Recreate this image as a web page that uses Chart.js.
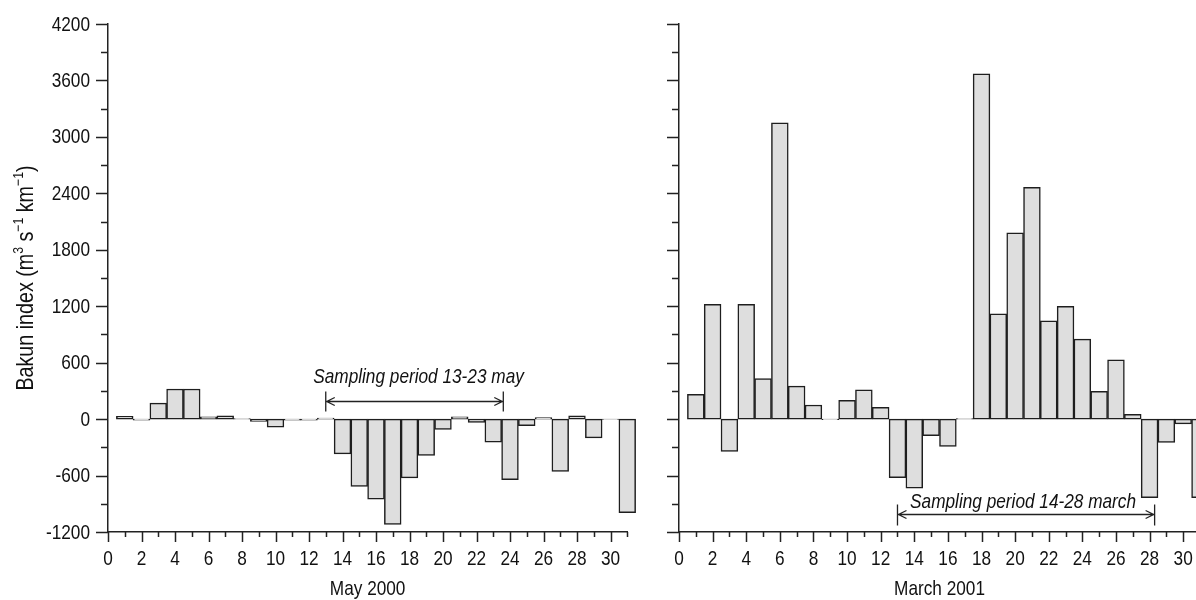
<!DOCTYPE html>
<html>
<head>
<meta charset="utf-8">
<script src="https://cdn.jsdelivr.net/npm/chart.js@4.4.0/dist/chart.umd.min.js"></script>
<style>
  html, body { margin: 0; padding: 0; background: #fff; overflow: hidden; width: 1196px; height: 600px; }
  #wrapMay { position: absolute; left: 0; top: 0; width: 645px; height: 600px; }
  #wrapMarch { position: absolute; left: 640px; top: 0; width: 590px; height: 600px; }
</style>
</head>
<body>
<div id="wrapMay"><canvas id="chartMay"></canvas></div>
<div id="wrapMarch"><canvas id="chartMarch"></canvas></div>
<script>
// days of the month
const days = [1, 2, 3, 4, 5, 6, 7, 8, 9, 10, 11, 12, 13, 14, 15, 16, 17, 18, 19, 20, 21, 22, 23, 24, 25, 26, 27, 28, 29, 30, 31];

// Bakun index, m3 s-1 km-1
const bakunMay2000 = [30, -10, 170, 320, 320, 25, 35, 5, -25, -85, -10, -10, 10, -370, -715, -850, -1120, -625, -385, -110, 25, -35, -245, -645, -70, 15, -555, 35, -200, -3, -995];
const bakunMarch2001 = [263, 1220, -343, 1220, 430, 3150, 350, 150, -5, 200, 310, 125, -623, -733, -177, -290, 5, 3670, 1120, 1980, 2465, 1045, 1200, 850, 295, 630, 50, -835, -248, -50, -835];

// sampling periods (day from, day to) and the level of the arrow
const samplingMay = [13, 23.6];
const samplingMarch = [13, 28.3];
const arrowLevelMay = 190;
const arrowLevelMarch = -1010;

const yMin = -1200, yMax = 4200, yStep = 300, yLabelStep = 600;

// narrow sans: Liberation Sans squeezed horizontally
const fontFam = "'Liberation Sans', Arial, sans-serif";
const squeeze = 0.82;
const ink = '#111';

function fontStr(size, italic) {
  return (italic ? 'italic ' : '') + size + 'px ' + fontFam;
}

function narrow(ctx, text, x, y, size, align, italic) {
  ctx.save();
  ctx.translate(x, y);
  ctx.scale(squeeze, 1);
  ctx.font = fontStr(size, italic);
  ctx.textAlign = align;
  ctx.textBaseline = 'alphabetic';
  ctx.fillStyle = ink;
  ctx.fillText(text, 0, 0);
  ctx.restore();
}

// text with superscripts, parts = [[text, isSup], ...], centred on x
function narrowRich(ctx, parts, x, y, size, rotate) {
  const supSize = Math.round(size * 0.62);
  ctx.save();
  ctx.translate(x, y);
  ctx.rotate(rotate);
  ctx.scale(squeeze, 1);
  ctx.fillStyle = ink;
  ctx.textAlign = 'left';
  ctx.textBaseline = 'alphabetic';
  let w = 0;
  parts.forEach(p => { ctx.font = fontStr(p[1] ? supSize : size); w += ctx.measureText(p[0]).width; });
  let cx = -w / 2;
  parts.forEach(p => {
    ctx.font = fontStr(p[1] ? supSize : size);
    ctx.fillText(p[0], cx, p[1] ? -size * 0.42 : 0);
    cx += ctx.measureText(p[0]).width;
  });
  ctx.restore();
}

// tick marks, tick labels and axis titles
const axisText = {
  id: 'axisText',
  afterDraw(chart, args, opts) {
    const { ctx, scales: { x, y } } = chart;
    ctx.save();
    ctx.strokeStyle = '#222';
    ctx.lineWidth = 1.5;
    ctx.beginPath();
    x.ticks.forEach(t => {
      const px = Math.round(x.getPixelForValue(t.value)) + 0.5;
      const len = t.value % 2 === 0 ? 10 : 5;
      ctx.moveTo(px, x.top);
      ctx.lineTo(px, x.top + len);
    });
    y.ticks.forEach(t => {
      const py = Math.round(y.getPixelForValue(t.value)) + 0.5;
      const len = t.value % yLabelStep === 0 ? 12 : 7;
      ctx.moveTo(y.right - len, py);
      ctx.lineTo(y.right, py);
    });
    ctx.stroke();
    ctx.restore();

    x.ticks.forEach(t => {
      if (t.value % 2 === 0) narrow(ctx, String(t.value), x.getPixelForValue(t.value), x.top + 33, 21, 'center');
    });
    if (opts.yLabels) {
      y.ticks.forEach(t => {
        if (t.value % yLabelStep === 0) narrow(ctx, String(t.value), y.right - 18, y.getPixelForValue(t.value) + 6.5, 21, 'right');
      });
    }
    narrow(ctx, opts.xTitle, (x.left + x.right) / 2, 595, 21, 'center');
    if (opts.yTitle) {
      narrowRich(ctx, opts.yTitle, 33, (y.top + y.bottom) / 2, 24, -Math.PI / 2);
    }
  }
};

// double arrow with the sampling period text
const samplingArrow = {
  id: 'samplingArrow',
  afterDatasetsDraw(chart, args, opts) {
    if (!opts || !opts.text) return;
    const { ctx, scales: { x, y } } = chart;
    const x1 = x.getPixelForValue(opts.range[0]);
    const x2 = x.getPixelForValue(opts.range[1]);
    const py = Math.round(y.getPixelForValue(opts.level)) + 0.5;
    ctx.save();
    ctx.strokeStyle = '#222';
    ctx.lineWidth = 1.3;
    ctx.beginPath();
    ctx.moveTo(x1, py); ctx.lineTo(x2, py);
    ctx.moveTo(x1, py - opts.capUp); ctx.lineTo(x1, py + opts.capDown);
    ctx.moveTo(x2, py - opts.capUp); ctx.lineTo(x2, py + opts.capDown);
    ctx.moveTo(x1 + 9, py - 4); ctx.lineTo(x1 + 1, py); ctx.lineTo(x1 + 9, py + 4);
    ctx.moveTo(x2 - 9, py - 4); ctx.lineTo(x2 - 1, py); ctx.lineTo(x2 - 9, py + 4);
    ctx.stroke();
    ctx.restore();
    narrow(ctx, opts.text, (x1 + x2) / 2 + opts.shift, py - opts.gap, 21, 'center', true);
  }
};

function makeChart(id, values, yWidth, padRight, texts, arrow) {
  return new Chart(document.getElementById(id), {
    type: 'bar',
    data: {
      datasets: [{
        data: days.map((d, i) => ({ x: d, y: values[i] })),
        backgroundColor: '#dedede',
        borderColor: '#1e1e1e',
        borderWidth: 1.5,
        borderSkipped: false,
        barPercentage: 1,
        categoryPercentage: 1,
        clip: false
      }]
    },
    options: {
      responsive: true,
      maintainAspectRatio: false,
      animation: false,
      layout: { padding: { top: 24, right: padRight, bottom: 0, left: 0 } },
      plugins: {
        legend: { display: false },
        tooltip: { enabled: false },
        axisText: texts,
        samplingArrow: arrow
      },
      scales: {
        x: {
          type: 'linear',
          offset: false,
          min: 0,
          max: 31,
          grid: { display: false, drawTicks: false },
          border: { color: '#222', width: 1.5 },
          ticks: { display: false, stepSize: 1, autoSkip: false },
          afterFit: s => { s.height = 68; }
        },
        y: {
          min: yMin,
          max: yMax,
          grid: { display: false, drawTicks: false },
          border: { color: '#222', width: 1.5 },
          ticks: { display: false, stepSize: yStep, autoSkip: false },
          afterFit: s => { s.width = yWidth; }
        }
      }
    },
    plugins: [axisText, samplingArrow]
  });
}

makeChart('chartMay', bakunMay2000, 108, 17.75, {
  xTitle: 'May 2000',
  yLabels: true,
  yTitle: [['Bakun index (m', false], ['3', true], [' s', false], ['\u22121', true], [' km', false], ['\u22121', true], [')', false]]
}, {
  text: 'Sampling period 13-23 may', range: samplingMay, level: arrowLevelMay,
  capUp: 10, capDown: 10, gap: 19, shift: 4
});

makeChart('chartMarch', bakunMarch2001, 39, 30, {
  xTitle: 'March 2001',
  yLabels: false,
  yTitle: null
}, {
  text: 'Sampling period 14-28 march', range: samplingMarch, level: arrowLevelMarch,
  capUp: 10, capDown: 11, gap: 7, shift: -3
});
</script>
</body>
</html>
